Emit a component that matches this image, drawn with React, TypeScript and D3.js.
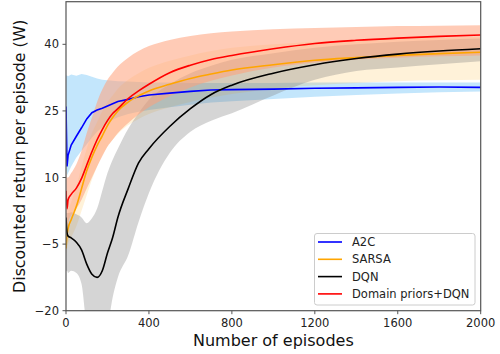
import React from "react";
import * as d3 from "d3";

const episodes = [0, 5, 10, 25, 50, 75, 100, 125, 150, 175, 200, 225, 250, 300, 350, 400, 500, 600, 700, 800, 1000, 1200, 1400, 1600, 1800, 2000];

const a2cMean = [26, 12.5, 15, 17.3, 19.3, 21.2, 23.2, 24.6, 25.2, 25.6, 26.1, 26.6, 27.1, 27.6, 28.2, 28.6, 29, 29.4, 29.7, 29.8, 29.9, 30.1, 30.2, 30.3, 30.4, 30.3];
const a2cUpper = [33, 33, 32.8, 33.2, 32.9, 33.3, 33.1, 32.7, 32.3, 32, 31.9, 31.8, 31.7, 31.6, 31.5, 31.4, 31.4, 31.3, 31.3, 31.3, 31.3, 31.4, 31.4, 31.4, 31.4, 31.4];
const a2cLower = [12, 10.5, 11, 12.5, 14.5, 16, 17.5, 19, 20.3, 21.3, 22.2, 23, 23.6, 24.3, 24.8, 25.2, 25.8, 26.4, 26.9, 27.2, 27.7, 28.2, 28.6, 28.9, 29.2, 29.4];

const sarsaMean = [-6, -3, -1.5, 0.5, 3.5, 7.5, 11.5, 14.6, 17.2, 19.4, 21.7, 23.5, 25, 27, 28.4, 29.5, 31, 32.3, 33.3, 34.2, 35.4, 36.4, 37, 37.5, 37.9, 38.2];
const sarsaUpper = [-3, 0, 2, 4.5, 8, 12.5, 16.5, 20, 22.5, 25, 27, 28.5, 30, 32, 33.5, 34.7, 36.3, 37.5, 38.5, 39.2, 40, 40.6, 41, 41.3, 41.5, 41.7];
const sarsaLower = [-8, -6, -5, -3.5, -1, 2.5, 6, 9.5, 12.5, 15, 17, 18.5, 19.8, 21.8, 23.2, 24.3, 25.8, 27, 28, 28.8, 30, 30.8, 31.3, 31.7, 31.9, 32];

const dqnMean = [1, -2.5, -3.2, -3.6, -4.6, -6.3, -9.5, -11.8, -12.5, -11, -7, -3.5, 1, 7.5, 13.3, 16.5, 21.5, 25.5, 28.7, 30.8, 33.5, 35.4, 36.8, 37.8, 38.5, 39];
const dqnUpper = [2, 2, 2, 2.2, 1.7, 1, -0.3, 0.8, 3, 7, 11, 14, 16.5, 21, 24.5, 27.5, 31, 33.5, 35.2, 36.5, 38, 39.2, 40, 40.6, 41, 41.3];
const dqnLower = [-11, -11, -11.5, -11, -11.5, -14, -24, -30, -32, -30, -24, -17, -12.5, -7.5, 0, 6.5, 15.5, 20.3, 22.8, 24.5, 28.5, 32, 34, 34.8, 35.5, 36.2];

const domainMean = [7, 3, 5, 6.2, 7.6, 9.8, 12.8, 15.8, 18.5, 20.8, 22.8, 24.4, 25.5, 27.8, 29.5, 31, 33.6, 35.3, 36.6, 37.5, 39, 40.2, 40.9, 41.4, 41.8, 42.1];
const domainUpper = [12, 10, 10, 11, 13, 16, 20, 23.5, 27, 29.8, 32, 33.6, 35, 37, 38.5, 39.6, 41, 41.9, 42.5, 42.9, 43.4, 43.7, 43.9, 44.1, 44.2, 44.3];
const domainLower = [-2, -1, 0, 1.5, 3, 5, 7.5, 10, 12.5, 14.8, 17, 18.5, 20, 22.3, 24.2, 25.8, 28.3, 30.3, 31.8, 33, 34.8, 35.9, 36.6, 37, 37.3, 37.5];

const xTicks = [0, 400, 800, 1200, 1600, 2000];
const yTicks = [-20, -5, 10, 25, 40];
const legendLabels = ["A2C", "SARSA", "DQN", "Domain priors+DQN"];

const series = [
  { name: legendLabels[0], mean: a2cMean, upper: a2cUpper, lower: a2cLower, color: "#0000ff", fill: "#87cefa", alpha: 0.5, curve: d3.curveLinear },
  { name: legendLabels[1], mean: sarsaMean, upper: sarsaUpper, lower: sarsaLower, color: "#ffa500", fill: "#ffa500", alpha: 0.15, curve: d3.curveMonotoneX },
  { name: legendLabels[2], mean: dqnMean, upper: dqnUpper, lower: dqnLower, color: "#000000", fill: "#808080", alpha: 0.33, curve: d3.curveMonotoneX },
  { name: legendLabels[3], mean: domainMean, upper: domainUpper, lower: domainLower, color: "#ff0000", fill: "#ffa07a", alpha: 0.55, curve: d3.curveMonotoneX },
];

const W = 500, H = 354;
const L = 66, R = 480.7, T = 1.7, B = 310.7;
const FONT = "DejaVu Sans, sans-serif";

export default function App() {
  const x = d3.scaleLinear().domain([0, 2000]).range([L, R]);
  const y = d3.scaleLinear().domain([-20, 49.6]).range([B, T]);
  const spine = "#555";

  return (
    <svg width={W} height={H} style={{ position: "absolute", left: 0, top: 0, background: "#fff" }}>
      <defs>
        <clipPath id="plot">
          <rect x={L} y={T} width={R - L} height={B - T} />
        </clipPath>
      </defs>
      <rect x={0} y={0} width={W} height={H} fill="#fff" />
      <g clipPath="url(#plot)">
        {series.map((s) => {
          const area = d3
            .area<number>()
            .x((_, i) => x(episodes[i]))
            .y0((_, i) => y(s.lower[i]))
            .y1((_, i) => y(s.upper[i]))
            .curve(s.curve);
          return <path key={s.name + "a"} d={area(s.mean) || ""} fill={s.fill} fillOpacity={s.alpha} stroke="none" />;
        })}
        {series.map((s) => {
          const line = d3
            .line<number>()
            .x((_, i) => x(episodes[i]))
            .y((v) => y(v))
            .curve(s.curve);
          return <path key={s.name + "l"} d={line(s.mean) || ""} fill="none" stroke={s.color} strokeWidth={1.6} />;
        })}
      </g>
      <rect x={L} y={T} width={R - L} height={B - T} fill="none" stroke={spine} strokeWidth={1.2} />
      {xTicks.map((t) => (
        <g key={"x" + t}>
          <line x1={x(t)} x2={x(t)} y1={B} y2={B + 3.5} stroke={spine} strokeWidth={1} />
          <text x={x(t)} y={B + 16} textAnchor="middle" fontFamily={FONT} fontSize={11.5} fill="#222">
            {t}
          </text>
        </g>
      ))}
      {yTicks.map((t) => (
        <g key={"y" + t}>
          <line x1={L - 3.5} x2={L} y1={y(t)} y2={y(t)} stroke={spine} strokeWidth={1} />
          <text x={L - 7} y={y(t) + 4} textAnchor="end" fontFamily={FONT} fontSize={11.5} fill="#222">
            {t < 0 ? "\u2212" + Math.abs(t) : t}
          </text>
        </g>
      ))}
      <text x={(L + R) / 2} y={346} textAnchor="middle" fontFamily={FONT} fontSize={16} fill="#111">
        Number of episodes
      </text>
      <text transform={`translate(24.5, ${(T + B) / 2}) rotate(-90)`} textAnchor="middle" fontFamily={FONT} fontSize={15.8} fill="#111">
        Discounted return per episode (W)
      </text>
      <g>
        <rect x={314.5} y={233.5} width={160.5} height={71.5} rx={2.5} fill="#fff" fillOpacity={0.8} stroke="#ccc" strokeWidth={1} />
        {series.map((s, i) => (
          <g key={"lg" + i}>
            <line x1={318} x2={342} y1={242 + i * 17.3} y2={242 + i * 17.3} stroke={s.color} strokeWidth={1.6} />
            <text x={352} y={242 + i * 17.3 + 4} fontFamily={FONT} fontSize={11.5} fill="#222">
              {s.name}
            </text>
          </g>
        ))}
      </g>
    </svg>
  );
}
